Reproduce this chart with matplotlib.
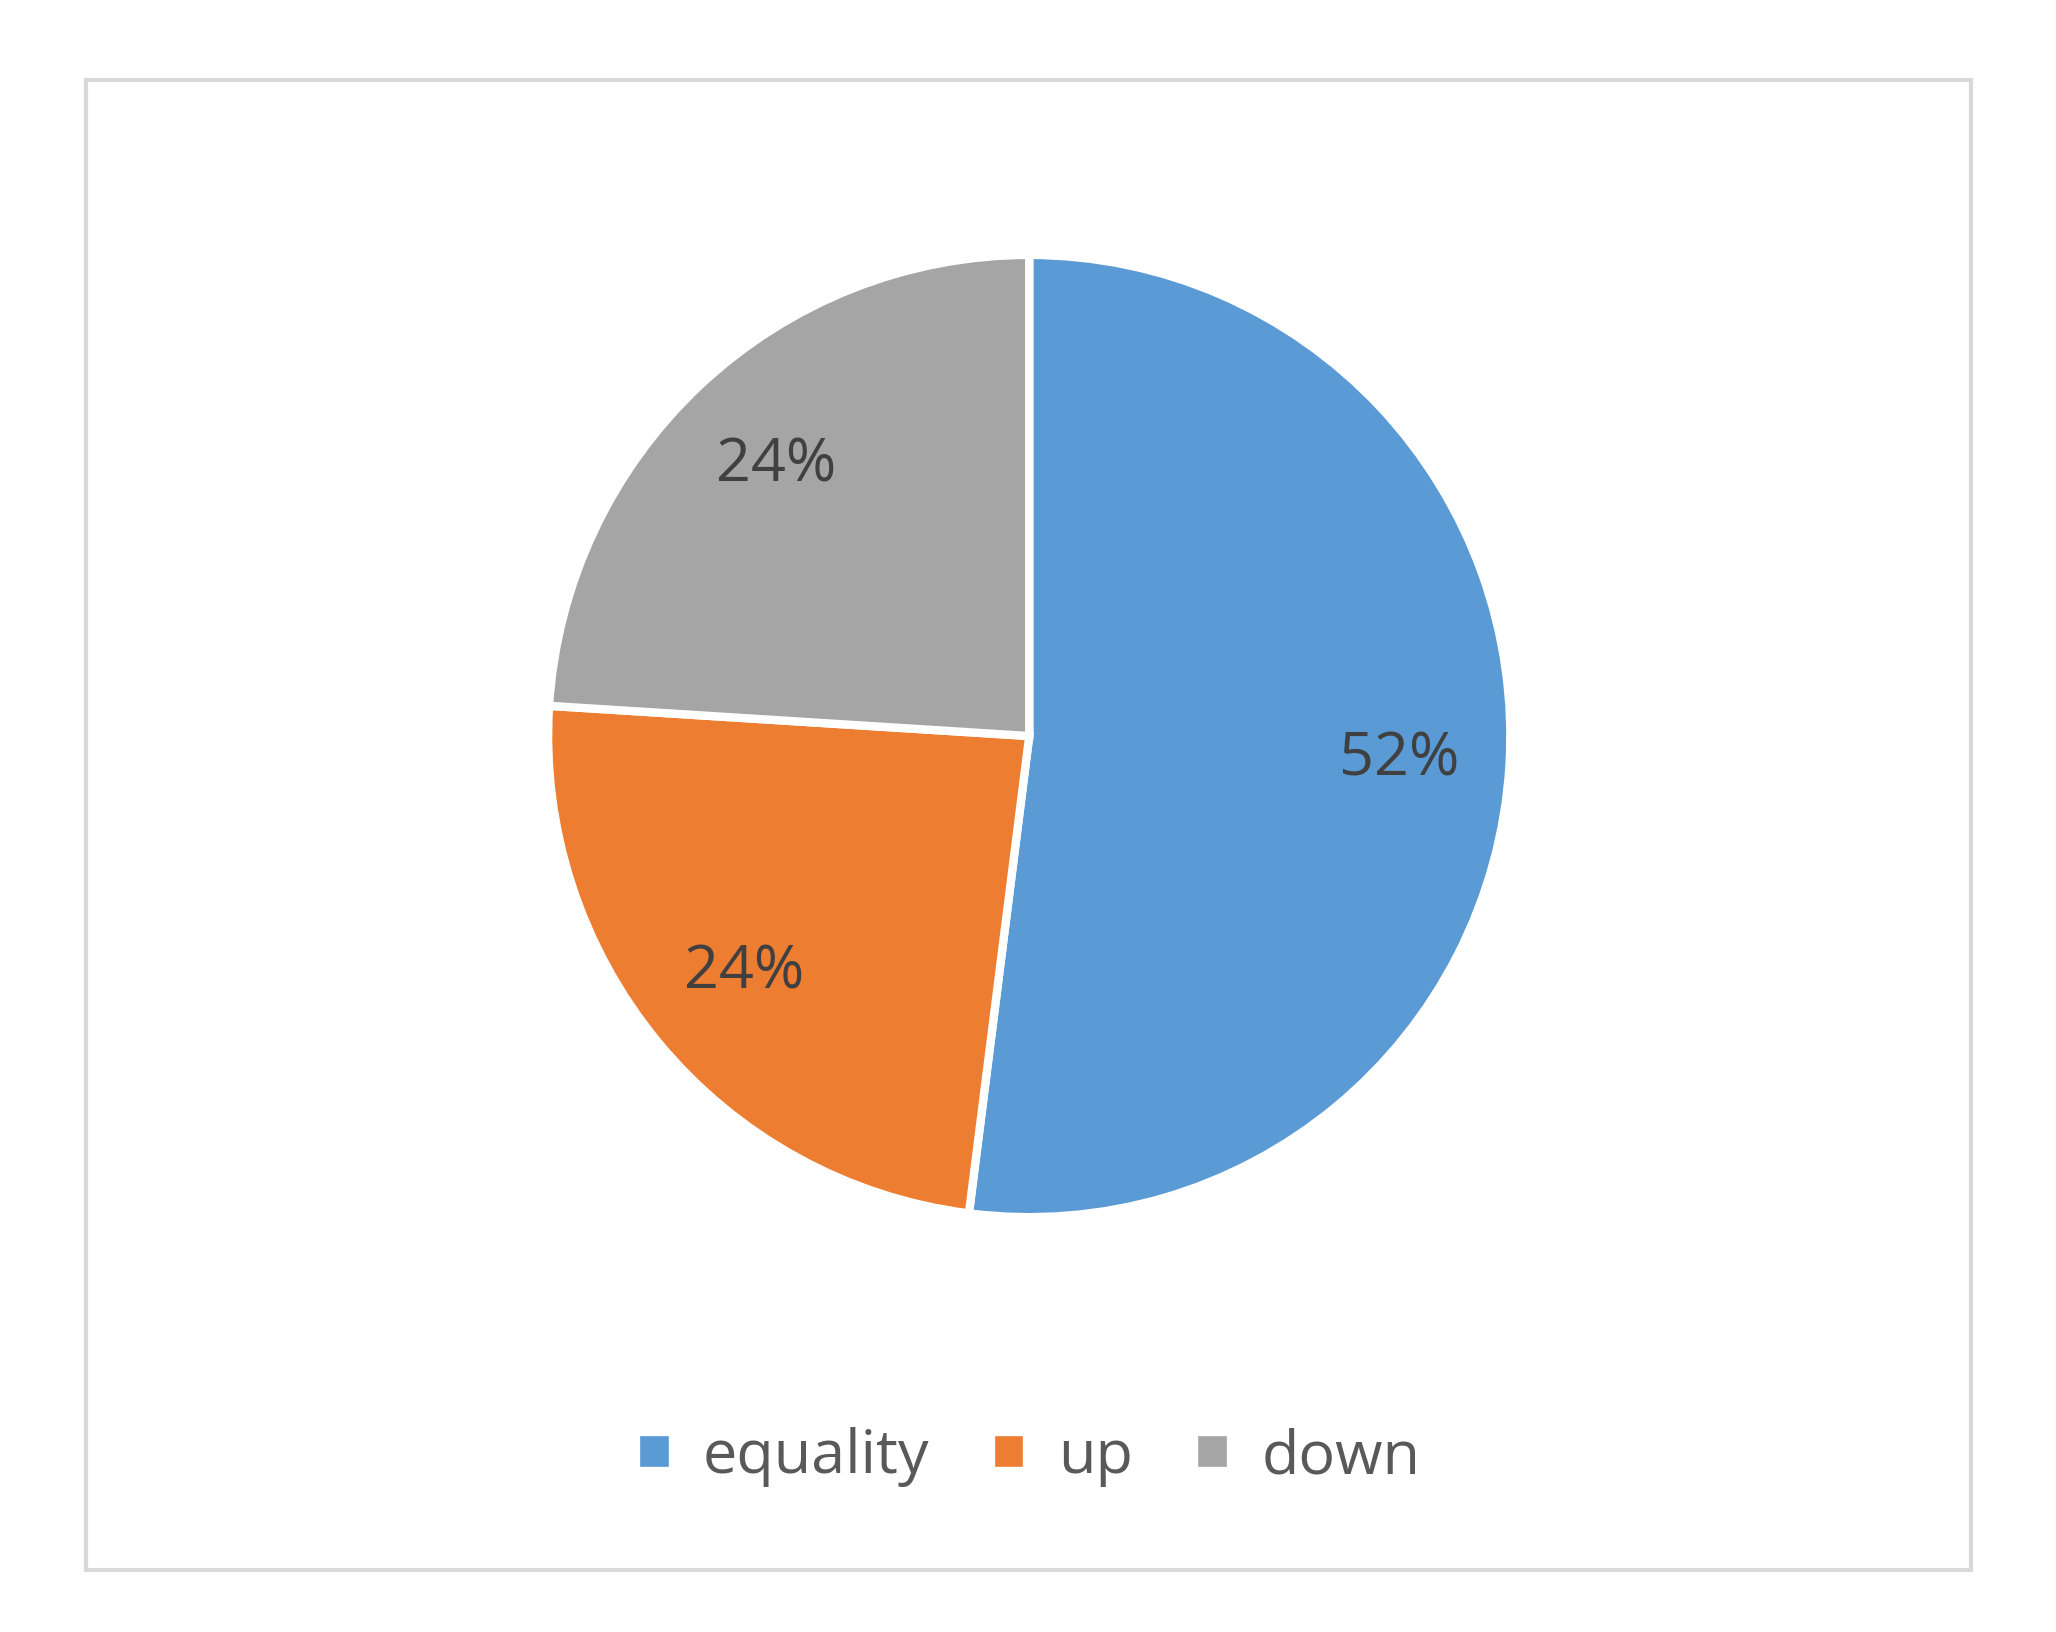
import matplotlib
matplotlib.use("Agg")
import matplotlib.pyplot as plt
from matplotlib.patches import Rectangle

categories = ["equality", "up", "down"]
values = [52, 24, 24]
colors = ["#5B9BD5", "#ED7D31", "#A5A5A5"]

plt.rcParams['font.family'] = ['Open Sans', 'DejaVu Sans']
fig = plt.figure(figsize=(20.56, 16.32), dpi=100)
fig.patches.append(Rectangle((0.042, 0.038), 0.9165, 0.913, transform=fig.transFigure,
                             fill=False, edgecolor="#D9D9D9", linewidth=3))
w = 0.234*2; h = 0.295*2
ax = fig.add_axes([0.5006 - w/2, 0.549 - h/2, w, h])
wedges, texts, autotexts = ax.pie(values, colors=colors, startangle=90, counterclock=False,
    autopct='%1.0f%%', pctdistance=0.77,
    wedgeprops=dict(edgecolor='white', linewidth=6),
    textprops=dict(color='#404040', fontsize=44))
ax.set_xlim(-1, 1); ax.set_ylim(-1, 1)
ax.set_aspect('equal')
leg = fig.legend(wedges, categories, loc='center', bbox_to_anchor=(0.5, 0.107), ncol=3,
                 frameon=False, fontsize=44, handlelength=0.6, handleheight=0.6,
                 columnspacing=1.0, handletextpad=0.5)
for t in leg.get_texts():
    t.set_color('#595959')
fig.savefig("out.png", dpi=100, facecolor='white')
